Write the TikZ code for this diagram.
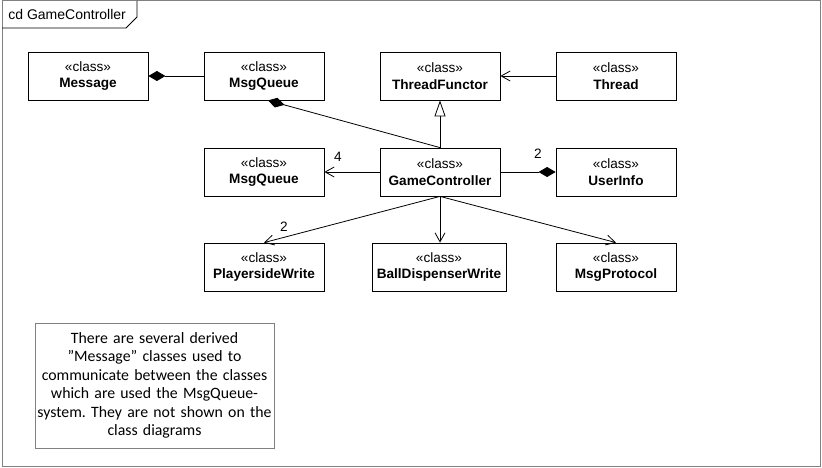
\documentclass[tikz,border=0pt]{standalone}
\usepackage{fontspec}
\setmainfont{Liberation Sans}
\newfontfamily\notefont{Carlito}
\usetikzlibrary{arrows.meta}
\definecolor{framegray}{RGB}{128,128,128}
\frenchspacing
\begin{document}
\begin{tikzpicture}[x=1pt, y=-1pt, line width=0.8pt]
    \useasboundingbox (0,0) rectangle (822,468);
    % diagram frame
    \draw[framegray, line width=1pt] (2,1) rectangle (820,466);
    \draw (2,28) -- (126,28) -- (137,17) -- (137,1);
    \node[anchor=west, inner sep=0pt, font=\fontsize{14}{16}\selectfont] (title) at (8,14) {cd GameController};
    \begin{scope}
        \tikzstyle{every node}=[fill=white, draw=black, rectangle, align=center, minimum width=120pt, minimum height=48pt, inner sep=0pt, font=\fontsize{13.6}{16.5}\selectfont]
        \node (msg) at (88,76) {«class»\\\textbf{Message}};
        \node (mq1) at (264,76) {«class»\\\textbf{MsgQueue}};
        \node (tf) at (440,76) {«class»\\\textbf{ThreadFunctor}};
        \node (th) at (616,76) {«class»\\\textbf{Thread}};
        \node (mq2) at (264,172) {«class»\\\textbf{MsgQueue}};
        \node (gc) at (440,172) {«class»\\\textbf{GameController}};
        \node (ui) at (616,172) {«class»\\\textbf{UserInfo}};
        \node (pw) at (264,267) {«class»\\\textbf{PlayersideWrite}};
        \node[minimum width=134pt] (bdw) at (439,267) {«class»\\\textbf{BallDispenserWrite}};
        \node (mp) at (616,267) {«class»\\\textbf{MsgProtocol}};
    \end{scope}
    \node[draw=framegray, line width=1pt, minimum width=239pt, minimum height=125pt, inner sep=0pt, align=center, text width=235pt, font=\notefont\fontsize{15.8}{18.5}\selectfont] (note) at (154.5,385.5)
        {There are several derived\\ ”Message” classes used to\\ communicate between the classes\\ which are used the MsgQueue-\\ system. They are not shown on the\\ class diagrams};
    \begin{scope}
        \tikzstyle{every edge}=[draw, line width=0.8pt]
        \tikzstyle{assoc}=[-{Straight Barb[length=9pt, width=10pt, line width=0.8pt]}]
        \tikzstyle{compo}=[-{Diamond[length=17pt, width=10pt]}]
        \tikzstyle{inherit}=[-{Triangle[open, length=16pt, width=11pt, fill=white, line width=0.8pt]}]
        \path
        (mq1) edge[compo] (msg)
        (gc.north) edge[compo] ([xshift=4pt]mq1.south)
        (gc.north) edge[inherit] (tf.south)
        (th) edge[assoc] (tf)
        (gc) edge[assoc] (mq2)
        (gc) edge[compo] (ui)
        (gc.south) edge[assoc] (pw.north)
        (gc.south) edge[assoc] ([xshift=1pt]bdw.north)
        (gc.south) edge[assoc] (mp.north)
        ;
    \end{scope}
    \begin{scope}
        \tikzstyle{every node}=[inner sep=0pt, font=\fontsize{13.6}{16}\selectfont]
        \node (n4) at (338,157) {4};
        \node (n2ui) at (538,154) {2};
        \node (n2pw) at (284,227) {2};
    \end{scope}
\end{tikzpicture}
\end{document}
